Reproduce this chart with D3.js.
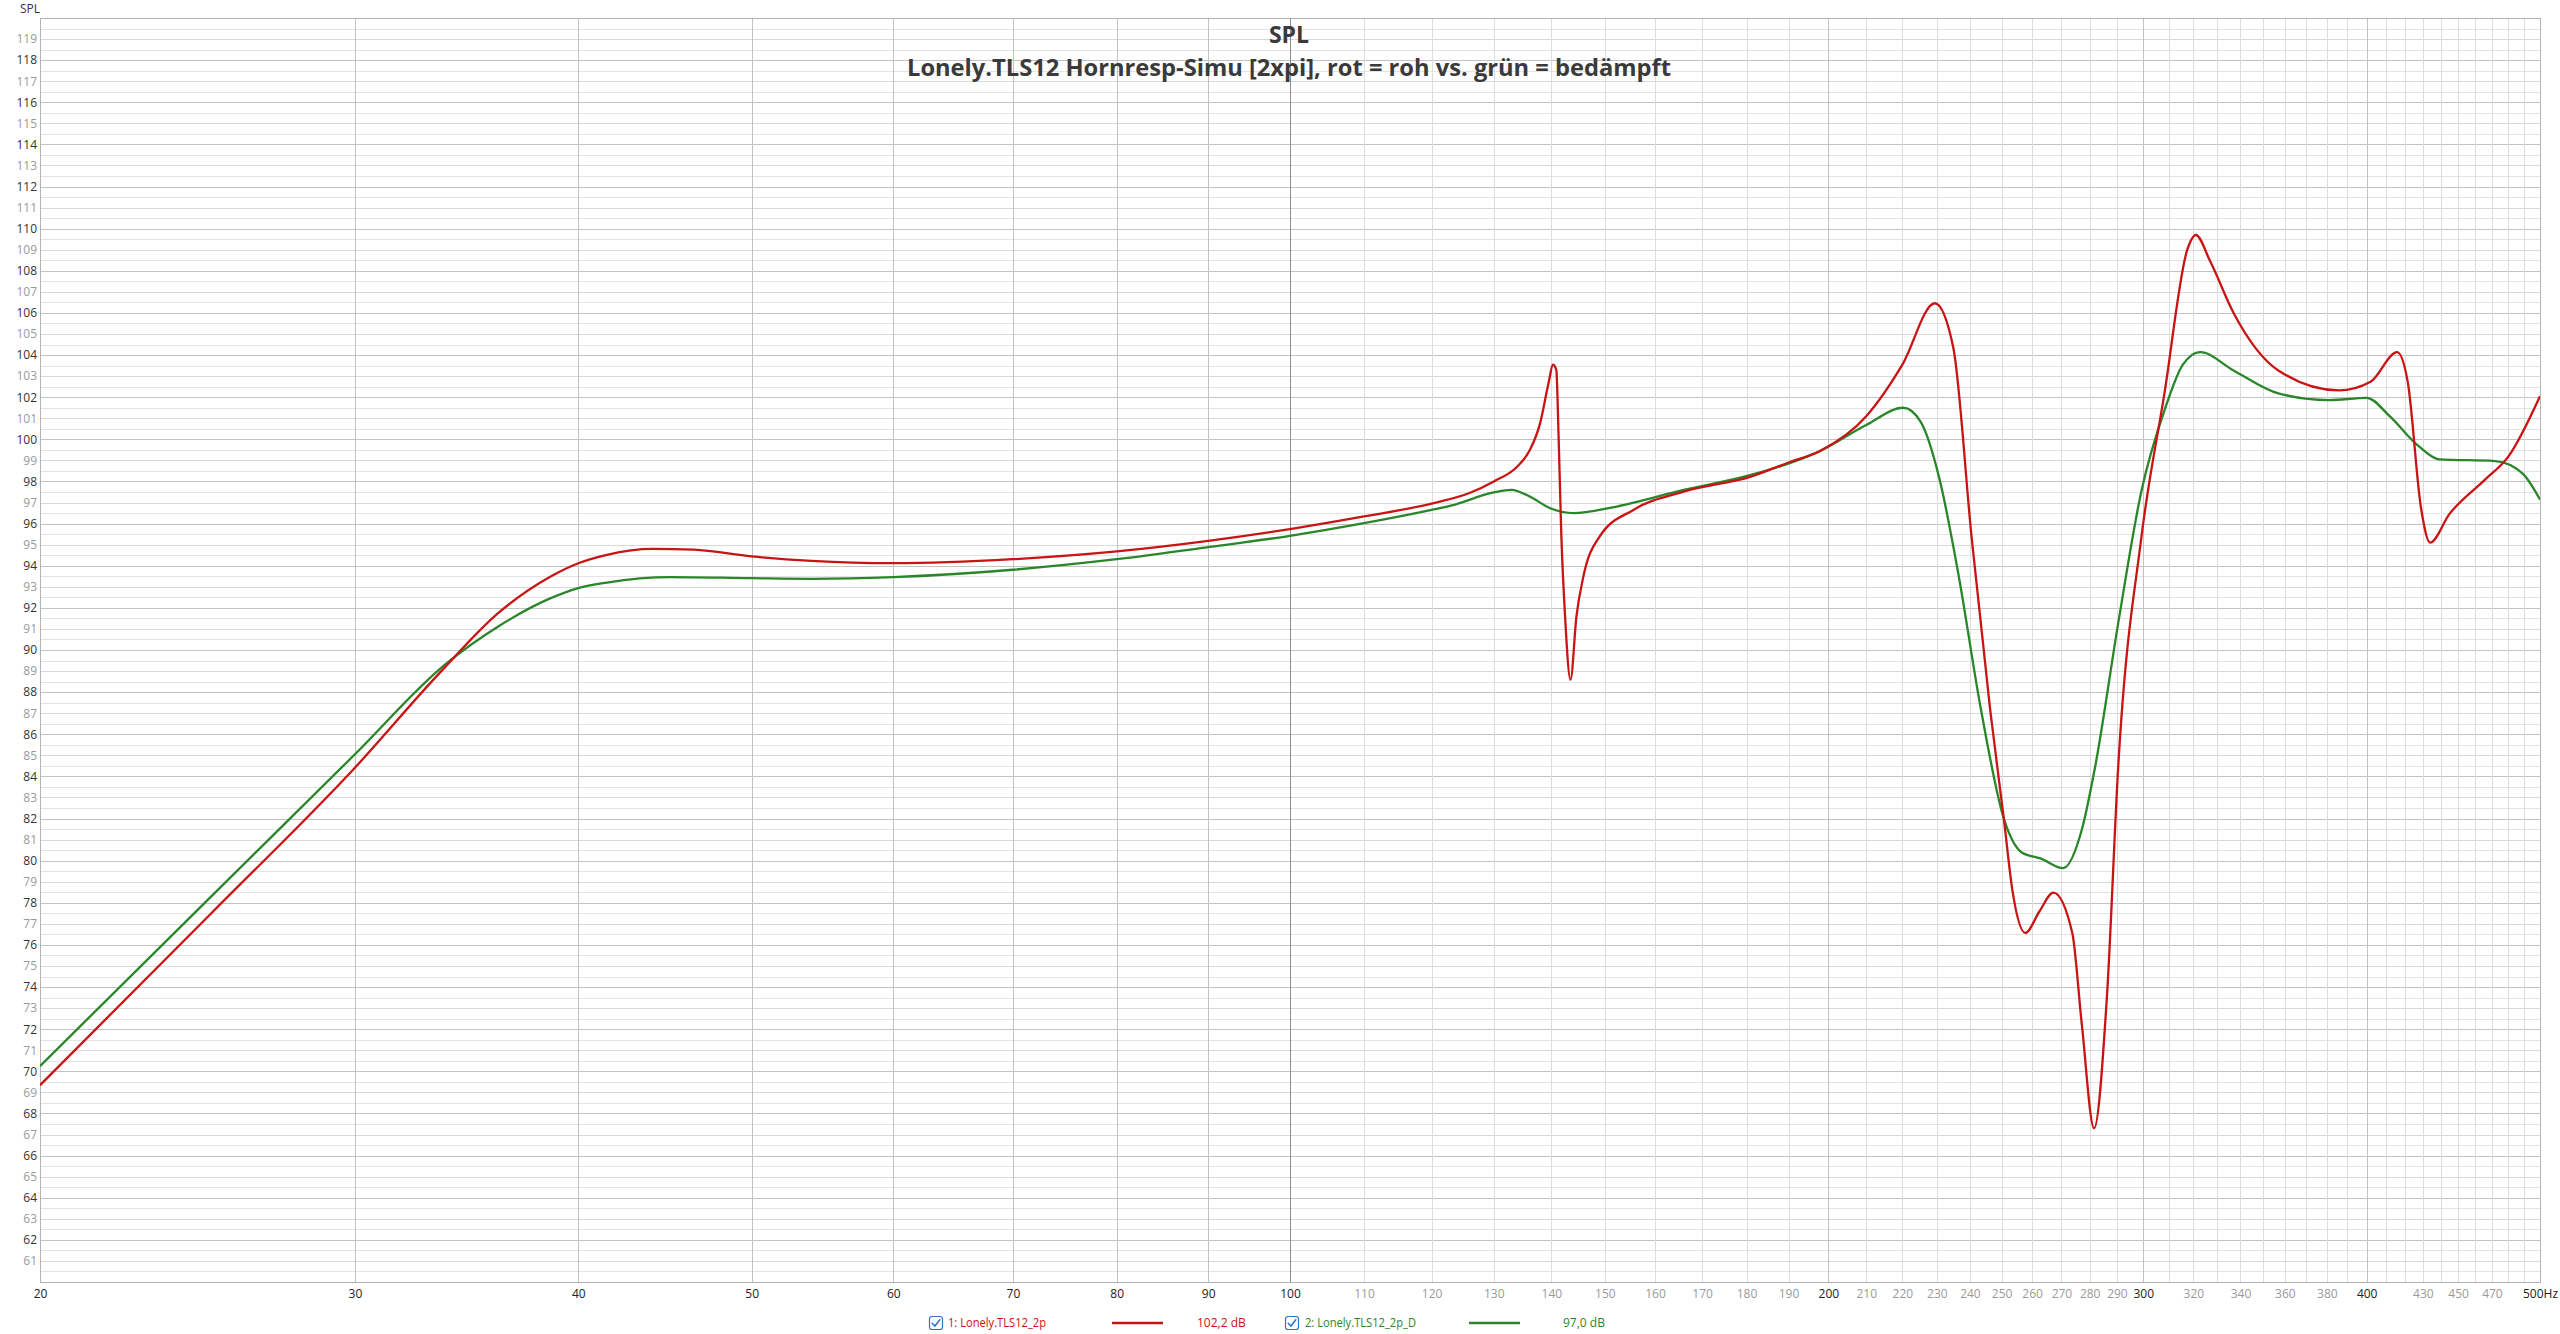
<!DOCTYPE html>
<html>
<head>
<meta charset="utf-8">
<script src="https://cdn.jsdelivr.net/npm/d3@7/dist/d3.min.js"></script>
<style>
  html, body { margin: 0; padding: 0; background: #ffffff; }
  svg { display: block; }
  text { font-family: "Open Sans", "Noto Sans", "DejaVu Sans", sans-serif; }
</style>
</head>
<body>
<svg id="chart" width="2560" height="1334"></svg>
<script>
// ---------------- data ----------------
const chartTitle = "SPL";
const chartSubtitle = "Lonely.TLS12 Hornresp-Simu [2xpi], rot = roh vs. grün = bedämpft";
const yAxisTitle = "SPL";

const redName = "1: Lonely.TLS12_2p";
const redLevel = "102,2 dB";
const greenName = "2: Lonely.TLS12_2p_D";
const greenLevel = "97,0 dB";

// red = roh (raw)
const redFreq = [20, 25, 30, 33.5, 36.1, 38.6, 40, 41.5, 44, 46.4, 50, 54, 60, 70, 80, 90, 100, 110, 120,
  126, 130, 134, 136.2, 138, 139.5, 140.3, 140.9, 141.3, 141.8, 142.5, 143.5, 144.6, 145.9, 149, 155.6,
  166, 181, 190, 198, 210, 220, 229.4, 234.9, 240.5, 246.3, 250.7, 253.6, 257.7, 262.5, 267.2, 273.8,
  277.2, 281.6, 286.3, 290.5, 299.3, 308.3, 317.5, 321, 327, 337, 357, 386, 402, 416, 421.7, 429, 434,
  445, 466, 480, 500];
const redSpl = [69.34, 77.6, 84.41, 88.96, 91.77, 93.49, 94.12, 94.52, 94.80, 94.76, 94.44, 94.23, 94.12,
  94.31, 94.68, 95.18, 95.74, 96.34, 96.95,
  97.45, 98.0, 98.71, 99.5, 100.77, 102.67, 103.54, 103.3, 100.3, 95.55, 91.59, 88.59, 91.59, 93.49, 95.39, 96.65,
  97.52, 98.23, 98.9, 99.46, 101.1, 103.55, 106.46, 104.36, 95.37, 87.2, 82.0, 78.48, 76.57, 77.6, 78.48, 76.57,
  72.2, 67.3, 73.57, 84.5, 95.37, 102.18, 109.0, 109.7, 108.45, 106.0, 103.27, 102.32, 102.73, 104.14, 102.73, 96.73, 95.1,
  96.46, 98.1, 99.18, 102.05];

// green = bedämpft (damped)
const greenFreq = [20, 25, 30, 33.7, 36.1, 38.6, 40, 41.5, 45, 50, 54, 60, 70, 80, 90, 100, 110, 120, 123,
  130, 133, 136.2, 139.8, 144, 152.3, 166, 181, 198, 210, 220.3, 225.3, 230.8, 236.3, 243.4, 250.7,
  256.7, 262.8, 270.6, 277.2, 282, 290.5, 299.3, 308.3, 315.7, 322.8, 337, 357, 381, 400, 412, 427,
  439, 472, 489, 500];
const greenSpl = [70.25, 78.4, 85.05, 89.32, 91.13, 92.46, 92.94, 93.2, 93.46, 93.41, 93.38, 93.46, 93.81,
  94.31, 94.88, 95.42, 96.02, 96.65, 96.85,
  97.48, 97.6, 97.28, 96.73, 96.5, 96.81, 97.6, 98.31, 99.46, 100.68, 101.5, 100.82, 98.1, 93.74, 87.2, 82.0,
  80.38, 80.11, 79.65, 81.48, 84.47, 91.29, 97.55, 101.37, 103.55, 104.14, 103.27, 102.18, 101.86, 101.97, 101.1, 99.73,
  99.05, 98.97, 98.37, 97.14];

// axis ticks
const yLabelValues = d3.range(61, 120);
const yGridValues = d3.range(60.5, 120, 0.5);
const xGridValues = [30, 40, 50, 60, 70, 80, 90, 100, 110, 120, 130, 140, 150, 160, 170, 180, 190,
  200, 210, 220, 230, 240, 250, 260, 270, 280, 290, 300, 310, 320, 330, 340, 350, 360, 370, 380, 390,
  400, 410, 420, 430, 440, 450, 460, 470, 480, 490];
const xLabelValues = [20, 30, 40, 50, 60, 70, 80, 90, 100, 110, 120, 130, 140, 150, 160, 170, 180, 190,
  200, 210, 220, 230, 240, 250, 260, 270, 280, 290, 300, 320, 340, 360, 380, 400, 430, 450, 470, 500];
const xStrongLabels = [20, 30, 40, 50, 60, 70, 80, 90, 100, 200, 300, 400, 500];
const xMediumGrid = [30, 40, 50, 60, 70, 80, 90, 200, 300, 400];

// ---------------- drawing ----------------
const plot = { left: 40, right: 2540, top: 18, bottom: 1282 };
const svg = d3.select("#chart");

const x = d3.scaleLog().domain([20, 500]).range([plot.left, plot.right]);
const y = d3.scaleLinear().domain([60, 120]).range([plot.bottom, plot.top]);

const grid = svg.append("g").attr("shape-rendering", "crispEdges");

// horizontal grid
grid.selectAll("line.hg").data(yGridValues).join("line")
  .attr("x1", plot.left).attr("x2", plot.right)
  .attr("y1", d => Math.round(y(d)) + 0.5).attr("y2", d => Math.round(y(d)) + 0.5)
  .attr("stroke", d => (d % 1 !== 0) ? "#e4e4e4" : (d % 2 === 0 ? "#c2c2c2" : "#d9d9d9"))
  .attr("stroke-width", 1);

// vertical grid
grid.selectAll("line.vg").data(xGridValues).join("line")
  .attr("y1", plot.top).attr("y2", plot.bottom)
  .attr("x1", d => Math.round(x(d)) + 0.5).attr("x2", d => Math.round(x(d)) + 0.5)
  .attr("stroke", d => d === 100 ? "#8e8e8e" : (xMediumGrid.includes(d) ? "#c2c2c2" : "#dddddd"))
  .attr("stroke-width", 1);

// frame
grid.append("rect")
  .attr("x", plot.left + 0.5).attr("y", plot.top + 0.5)
  .attr("width", plot.right - plot.left).attr("height", plot.bottom - plot.top)
  .attr("fill", "none").attr("stroke", "#b4b4b4").attr("stroke-width", 1);

// y axis labels
const yAxis = d3.axisLeft(y).tickValues(yLabelValues).tickSize(0).tickPadding(3).tickFormat(d3.format("d"));
const gy = svg.append("g").attr("transform", `translate(${plot.left},0)`).call(yAxis);
gy.select(".domain").remove();
gy.selectAll("text")
  .attr("font-size", 12)
  .attr("font-family", "'Open Sans','Noto Sans',sans-serif")
  .attr("fill", d => d % 2 === 0 ? "#333333" : "#9a9a9a");

// x axis labels
const xAxis = d3.axisBottom(x).tickValues(xLabelValues).tickSize(0).tickPadding(7)
  .tickFormat(d => d === 500 ? "500Hz" : String(d));
const gx = svg.append("g").attr("transform", `translate(0,${plot.bottom})`).call(xAxis);
gx.select(".domain").remove();
gx.selectAll("text")
  .attr("font-size", 12)
  .attr("font-family", "'Open Sans','Noto Sans',sans-serif")
  .attr("fill", d => xStrongLabels.includes(d) ? "#222222" : "#9a9a9a");

// y axis title
svg.append("text").attr("x", 20).attr("y", 13)
  .attr("font-size", 12).attr("fill", "#333").text(yAxisTitle);

// titles
svg.append("text").attr("x", 1289).attr("y", 43).attr("text-anchor", "middle")
  .attr("font-size", 23).attr("font-weight", "bold").attr("fill", "#3a3a3a").text(chartTitle);
svg.append("text").attr("x", 1289).attr("y", 76).attr("text-anchor", "middle")
  .attr("font-size", 24).attr("font-weight", "bold").attr("fill", "#3a3a3a")
  .attr("textLength", 764).attr("lengthAdjust", "spacingAndGlyphs")
  .text(chartSubtitle);

// curves
svg.append("clipPath").attr("id", "plotclip").append("rect")
  .attr("x", plot.left).attr("y", plot.top)
  .attr("width", plot.right - plot.left).attr("height", plot.bottom - plot.top);

const line = d3.line().x(d => x(d[0])).y(d => y(d[1])).curve(d3.curveMonotoneX);
const redColor = "#c81414";
const greenColor = "#2a862a";

const curves = svg.append("g").attr("clip-path", "url(#plotclip)");
curves.append("path").datum(d3.zip(greenFreq, greenSpl))
  .attr("d", line).attr("fill", "none").attr("stroke", greenColor).attr("stroke-width", 2.3)
  .attr("stroke-linejoin", "round");
curves.append("path").datum(d3.zip(redFreq, redSpl))
  .attr("d", line).attr("fill", "none").attr("stroke", redColor).attr("stroke-width", 2.3)
  .attr("stroke-linejoin", "round");

// legend
const legendY = 1323;
function checkbox(cx) {
  const g = svg.append("g").attr("transform", `translate(${cx},${legendY - 7})`);
  g.append("rect").attr("x", 0.5).attr("y", 0.5).attr("width", 13).attr("height", 13).attr("rx", 2.5)
    .attr("fill", "#ffffff").attr("stroke", "#2c74c9").attr("stroke-width", 1.2);
  g.append("path").attr("d", "M3.2,7.2 L5.9,10 L10.8,3.8").attr("fill", "none")
    .attr("stroke", "#2c74c9").attr("stroke-width", 1.5).attr("stroke-linecap", "round");
}
const legendFont = "'Open Sans','Noto Sans',sans-serif";
checkbox(929);
svg.append("text").attr("x", 948).attr("y", legendY + 4).attr("font-size", 12).attr("font-family", legendFont)
  .attr("fill", redColor).attr("textLength", 98).attr("lengthAdjust", "spacingAndGlyphs").text(redName);
svg.append("line").attr("x1", 1112).attr("x2", 1163).attr("y1", legendY).attr("y2", legendY)
  .attr("stroke", redColor).attr("stroke-width", 2.5);
svg.append("text").attr("x", 1197).attr("y", legendY + 4).attr("font-size", 12).attr("font-family", legendFont)
  .attr("fill", redColor).text(redLevel);

checkbox(1285);
svg.append("text").attr("x", 1305).attr("y", legendY + 4).attr("font-size", 12).attr("font-family", legendFont)
  .attr("fill", greenColor).attr("textLength", 111).attr("lengthAdjust", "spacingAndGlyphs").text(greenName);
svg.append("line").attr("x1", 1469).attr("x2", 1520).attr("y1", legendY).attr("y2", legendY)
  .attr("stroke", greenColor).attr("stroke-width", 2.5);
svg.append("text").attr("x", 1563).attr("y", legendY + 4).attr("font-size", 12).attr("font-family", legendFont)
  .attr("fill", greenColor).text(greenLevel);
</script>
</body>
</html>
